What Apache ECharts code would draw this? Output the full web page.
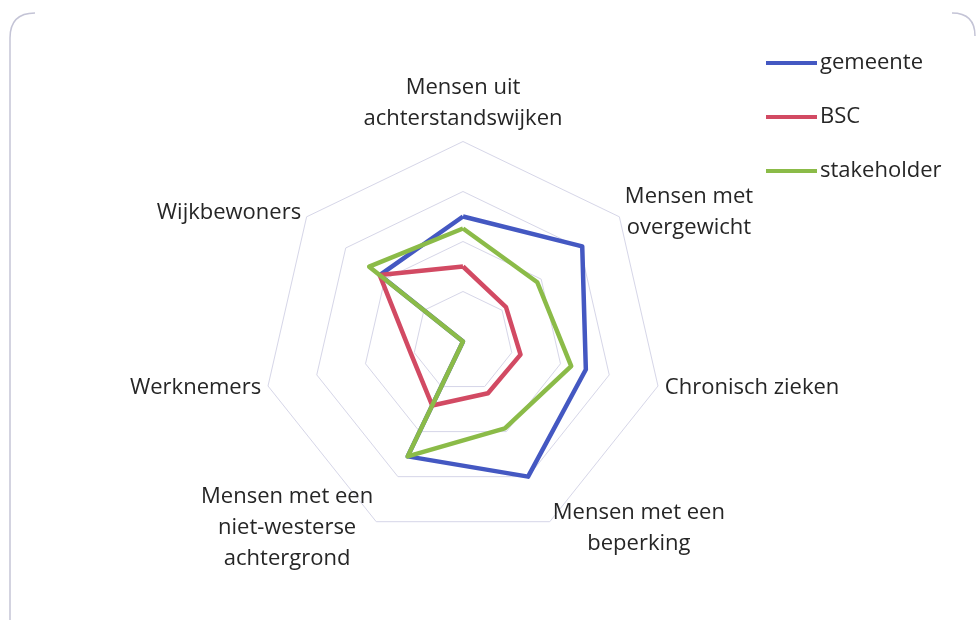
<!DOCTYPE html>
<html>
<head>
<meta charset="utf-8">
<script src="https://cdn.jsdelivr.net/npm/echarts@6/dist/echarts.min.js"></script>
<style>
  html, body { margin: 0; padding: 0; background: #fff; }
  #chart { width: 978px; height: 620px; }
</style>
</head>
<body>
<div id="chart"></div>
<script>
// axes in clockwise order, starting at the top
const categories = [
  'Mensen uit\nachterstandswijken',
  'Mensen met\novergewicht',
  'Chronisch zieken',
  'Mensen met een\nbeperking',
  'Mensen met een\nniet-westerse\nachtergrond',
  'Werknemers',
  'Wijkbewoners'
]
const seriesNames = ['gemeente', 'BSC', 'stakeholder']
const gemeente    = [2.5, 3.05, 2.52, 3.0, 2.55, 0, 2.13]
const bsc         = [1.5, 1.1, 1.18, 1.15, 1.42, 1.07, 2.13]
const stakeholder = [2.26, 1.9, 2.22, 1.93, 2.55, 0, 2.4]
const colors = ['#4458c2', '#d24a63', '#8bbb48']

// echarts lays radar axes out counter-clockwise, so flip everything after the first
const cw = (arr) => [arr[0]].concat(arr.slice(1).reverse())

const chart = echarts.init(document.getElementById('chart'), null, { renderer: 'canvas' })

const frame = { fill: null, stroke: '#c4c4d6', lineWidth: 1.5 }
const txt = '#262626'

chart.setOption({
  backgroundColor: '#fff',
  animation: false,
  textStyle: { fontFamily: 'Open Sans' },
  legend: {
    orient: 'vertical',
    left: 761, top: 47,
    itemWidth: 51, itemHeight: 4, itemGap: 32,
    icon: 'rect',
    textStyle: { fontSize: 22, color: txt, fontFamily: 'Open Sans', padding: [0, 0, 0, -2] },
    data: seriesNames
  },
  radar: {
    center: [463, 341.5],
    radius: 200,
    splitNumber: 4,
    shape: 'polygon',
    indicator: cw(categories).map((name) => ({ name, min: 0, max: 4 })),
    axisName: {
      color: txt, fontSize: 22, fontFamily: 'Open Sans',
      formatter: (n) => '{c|' + n + '}',
      rich: { c: { align: 'center', fontSize: 22, lineHeight: 31, color: txt, fontFamily: 'Open Sans' } }
    },
    nameGap: 7,
    axisLine: { show: false },
    splitArea: { show: false },
    splitLine: { lineStyle: { color: '#d6d6e8', width: 1 } }
  },
  series: [{
    type: 'radar',
    symbol: 'none',
    data: [gemeente, bsc, stakeholder].map((v, i) => ({
      name: seriesNames[i],
      value: cw(v),
      lineStyle: { color: colors[i], width: 4.5 },
      itemStyle: { color: colors[i] }
    }))
  }],
  graphic: [
    { type: 'line', shape: { x1: 10, y1: 640, x2: 10, y2: 38 }, style: frame },
    { type: 'bezierCurve', shape: { x1: 10, y1: 38, x2: 35, y2: 13, cpx1: 10, cpy1: 13 }, style: frame },
    { type: 'bezierCurve', shape: { x1: 952, y1: 13, x2: 975, y2: 36, cpx1: 975, cpy1: 13 }, style: frame }
  ]
})
</script>
</body>
</html>
